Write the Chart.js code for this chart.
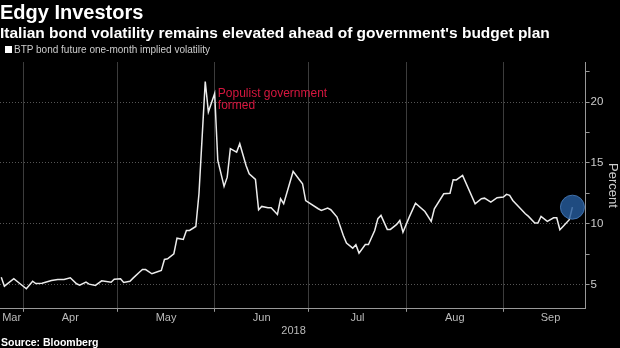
<!DOCTYPE html>
<html>
<head>
<meta charset="utf-8">
<script src="https://cdn.jsdelivr.net/npm/chart.js@4.4.1/dist/chart.umd.min.js"></script>
<style>
  html, body { margin: 0; padding: 0; background: #000; }
  body { width: 620px; height: 348px; position: relative; overflow: hidden; font-family: 'Liberation Sans', Arial, sans-serif; }
  #wrap { position: absolute; left: 0; top: 0; width: 620px; height: 348px; }
  .title { position: absolute; left: 0; top: 1px; color: #fff; font-weight: bold; font-size: 20px; line-height: 22px; white-space: nowrap; }
  .subtitle { position: absolute; left: 0; top: 24px; color: #fff; font-weight: bold; font-size: 15.5px; line-height: 18px; white-space: nowrap; }
  .legend { position: absolute; left: 5px; top: 44px; color: #ccc; font-size: 10px; line-height: 12px; white-space: nowrap; }
  .legend i { display: inline-block; width: 7px; height: 7px; background: #fff; margin-right: 2px; vertical-align: 0px; }
  .source { position: absolute; left: 1px; top: 336px; color: #fff; font-weight: bold; font-size: 10.5px; line-height: 13px; white-space: nowrap; }
</style>
</head>
<body>
<div id="wrap"><canvas id="chart" width="620" height="348"></canvas></div>
<div class="title">Edgy Investors</div>
<div class="subtitle">Italian bond volatility remains elevated ahead of government's budget plan</div>
<div class="legend"><i></i>BTP bond future one-month implied volatility</div>
<div class="source">Source: Bloomberg</div>
<script>
// x values: days since 1 Mar 2018
const days = [24, 25, 28, 30, 32, 34, 35, 37, 40, 42, 44, 46, 48, 49, 51, 52, 54, 56, 59, 60,
  62, 63, 65, 66, 68, 69, 70, 72, 74, 75, 76, 77, 79, 80, 82, 83, 84, 86, 87, 89,
  90, 92, 93, 95, 96, 97, 99, 100, 102, 103, 105, 106, 107, 109, 110, 112, 113, 114, 117, 119,
  120, 121, 125, 126, 128, 129, 131, 133, 134, 136, 137, 138, 140, 141, 143, 144, 145, 147, 148, 150,
  151, 152, 154, 156, 159, 161, 162, 165, 167, 168, 169, 171, 175, 177, 178, 180, 182, 184, 185, 186,
  187, 191, 192, 194, 195, 196, 198, 200, 201, 202, 203, 205, 206];
const volatility = [5.6, 4.86, 5.47, 5.06, 4.65, 5.27, 5.08, 5.1, 5.33, 5.41, 5.41, 5.55, 5.06, 4.94, 5.19, 5.03, 4.92, 5.3, 5.19, 5.44,
  5.47, 5.16, 5.27, 5.52, 6.01, 6.23, 6.23, 5.88, 6.07, 6.15, 7.06, 7.11, 7.53, 8.81, 8.7, 9.44, 9.44, 9.77, 12.46, 21.7,
  19.18, 20.7, 15.2, 13.07, 13.83, 16.17, 15.89, 16.58, 14.79, 14.11, 13.64, 11.15, 11.42, 11.31, 11.31, 10.76, 12.05, 11.64, 14.3, 13.62,
  13.29, 11.9, 11.23, 11.09, 11.28, 11.15, 10.54, 9.03, 8.4, 7.99, 8.27, 7.58, 8.29, 8.29, 9.44, 10.41, 10.68, 9.53, 9.53, 9.94,
  10.27, 9.3, 10.54, 11.69, 11.0, 10.19, 11.23, 12.46, 12.51, 13.62, 13.6, 13.97, 11.64, 12.05, 12.1, 11.77, 12.14, 12.19, 12.41, 12.33,
  11.91, 10.82, 10.6, 10.05, 10.05, 10.6, 10.19, 10.49, 10.49, 9.5, 9.77, 10.33, 11.36];

const monthNames = ['Mar', 'Apr', 'May', 'Jun', 'Jul', 'Aug', 'Sep'];
const monthStarts = [0, 31, 61, 92, 122, 153, 184, 214];
const yearLabel = '2018';
const yMajorTicks = [5, 10, 15, 20];
const yMinorTicks = [7.5, 12.5, 17.5, 22.5];
const seriesLabel = 'BTP bond future one-month implied volatility';
const note = ['Populist government', 'formed'];
const noteAt = { day: 93, value: 20.72 };

const X_MIN = 23.6, X_MAX = 210.2;

// label ticks sit in the middle of each (visible part of the) month
const labelTicks = monthNames.map((name, i) => ({
  value: (Math.max(monthStarts[i], X_MIN) + monthStarts[i + 1]) / 2,
  name: name
}));
const startTicks = monthStarts.filter(d => d > X_MIN && d < X_MAX);
const tickName = {};
labelTicks.forEach(t => { tickName[t.value] = t.name; });
const isStart = ctx => !!ctx.tick && startTicks.includes(ctx.tick.value);

const extraText = {
  id: 'extraText',
  afterDatasetsDraw(chart) {
    const { ctx, scales: { x, y }, chartArea } = chart;
    ctx.save();
    ctx.font = '12px "Liberation Sans", Arial, sans-serif';
    ctx.fillStyle = '#d6173f';
    ctx.textAlign = 'left';
    ctx.textBaseline = 'middle';
    const nx = x.getPixelForValue(noteAt.day);
    const ny = y.getPixelForValue(noteAt.value);
    note.forEach((line, i) => ctx.fillText(line, nx, ny + i * 12.5));

    ctx.font = '11px "Liberation Sans", Arial, sans-serif';
    ctx.fillStyle = '#bbb';
    ctx.textAlign = 'right';
    ctx.fillText(yearLabel, x.getPixelForValue(monthStarts[4]) - 3, chartArea.bottom + 22);
    ctx.restore();
  }
};

const lastIdx = volatility.length - 1;

new Chart(document.getElementById('chart'), {
  type: 'line',
  data: {
    datasets: [{
      label: seriesLabel,
      data: days.map((d, i) => ({ x: d, y: volatility[i] })),
      borderColor: '#ececec',
      backgroundColor: '#fff',
      borderWidth: 1.5,
      tension: 0,
      pointRadius: ctx => ctx.dataIndex === lastIdx ? 12 : 0,
      pointBackgroundColor: 'rgba(38, 92, 156, 0.82)',
      pointBorderColor: 'rgba(70, 120, 180, 0.9)',
      pointBorderWidth: 1,
      pointHoverRadius: 0
    }]
  },
  options: {
    responsive: false,
    animation: false,
    events: [],
    layout: { autoPadding: false, padding: { left: 0, top: 62, right: 0, bottom: 23 } },
    plugins: {
      legend: { display: false },
      tooltip: { enabled: false }
    },
    scales: {
      x: {
        type: 'linear',
        min: X_MIN,
        max: X_MAX,
        afterBuildTicks: scale => {
          // blank edge ticks keep Chart.js from padding the plot for the first/last label
          const t = [X_MIN, X_MAX].concat(startTicks).concat(labelTicks.map(l => l.value));
          t.sort((a, b) => a - b);
          scale.ticks = t.map(v => ({ value: v }));
        },
        ticks: {
          callback: v => tickName[v] || '',
          color: '#bbb',
          font: { family: '"Liberation Sans", Arial, sans-serif', size: 11 },
          padding: 0,
          maxRotation: 0,
          autoSkip: false
        },
        grid: {
          color: ctx => isStart(ctx) ? '#3c3c3c' : 'rgba(0,0,0,0)',
          tickColor: ctx => isStart(ctx) ? '#999' : 'rgba(0,0,0,0)',
          tickLength: 3,
          lineWidth: 1
        },
        border: { display: true, color: '#999', width: 1 }
      },
      y: {
        position: 'right',
        min: 3,
        max: 23.3,
        afterBuildTicks: scale => {
          scale.ticks = yMajorTicks.concat(yMinorTicks).sort((a, b) => a - b).map(v => ({ value: v }));
        },
        ticks: {
          callback: v => yMajorTicks.includes(v) ? String(v) : '',
          color: '#ccc',
          font: { family: '"Liberation Sans", Arial, sans-serif', size: 11.5 },
          padding: 1
        },
        grid: {
          color: ctx => yMajorTicks.includes(ctx.tick && ctx.tick.value) ? '#555' : 'rgba(0,0,0,0)',
          tickColor: '#999',
          tickLength: 4,
          lineWidth: 1
        },
        border: { display: true, color: '#999', width: 1, dash: [1, 2] },
        title: {
          display: true,
          text: 'Percent',
          color: '#ccc',
          font: { family: '"Liberation Sans", Arial, sans-serif', size: 13 },
          padding: { top: 0, bottom: 0 }
        }
      }
    }
  },
  plugins: [extraText]
});
</script>
</body>
</html>
